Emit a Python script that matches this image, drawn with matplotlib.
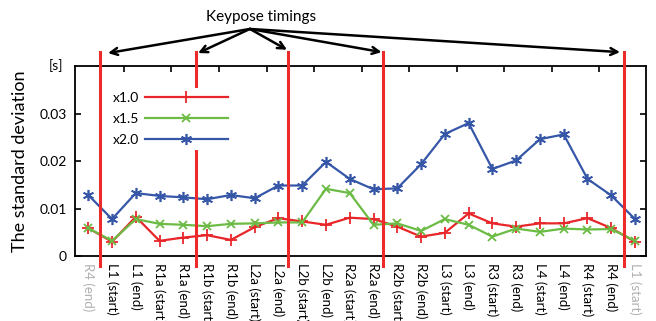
import matplotlib
matplotlib.use("Agg")
import matplotlib.pyplot as plt

plt.rcParams["font.family"] = ["Lato", "DejaVu Sans"]

labels = ["R4 (end)", "L1 (start)", "L1 (end)", "R1a (start)", "R1a (end)",
          "R1b (start)", "R1b (end)", "L2a (start)", "L2a (end)", "L2b (start)",
          "L2b (end)", "R2a (start)", "R2a (end)", "R2b (start)", "R2b (end)",
          "L3 (start)", "L3 (end)", "R3 (start)", "R3 (end)", "L4 (start)",
          "L4 (end)", "R4 (start)", "R4 (end)", "L1 (start)"]

sd_x10 = [0.0059, 0.0030, 0.0083, 0.0032, 0.0039, 0.0044, 0.0034, 0.0061,
          0.0080, 0.0073, 0.0066, 0.0081, 0.0078, 0.0062, 0.0041, 0.0049,
          0.0090, 0.0069, 0.0062, 0.0069, 0.0069, 0.0080, 0.0059, 0.0030]
sd_x15 = [0.0059, 0.0032, 0.0078, 0.0068, 0.0066, 0.0063, 0.0068, 0.0069,
          0.0071, 0.0071, 0.0142, 0.0133, 0.0066, 0.0069, 0.0053, 0.0078,
          0.0066, 0.0041, 0.0058, 0.0051, 0.0058, 0.0056, 0.0057, 0.0032]
sd_x20 = [0.0129, 0.0078, 0.0133, 0.0127, 0.0124, 0.0120, 0.0129, 0.0122,
          0.0149, 0.0149, 0.0199, 0.0163, 0.0141, 0.0143, 0.0194, 0.0258,
          0.0281, 0.0184, 0.0202, 0.0247, 0.0257, 0.0163, 0.0128, 0.0078]

# keypose timings, in label-index units
keyposes = [0.49, 4.53, 8.40, 12.41, 22.53]

RED = "#e8262a"
GREEN = "#6cbb45"
BLUE = "#3657a7"

fig = plt.figure(figsize=(6.56, 3.21), dpi=100)
ax = fig.add_axes([0.1143, 0.2025, 0.8704, 0.5928])

x = list(range(len(labels)))
ax.plot(x, sd_x10, color=RED, lw=1.6, marker="+", ms=8, mew=1.3, label="x1.0", zorder=3)
ax.plot(x, sd_x15, color=GREEN, lw=1.6, marker="x", ms=6, mew=1.3, label="x1.5", zorder=3)
ax.plot(x, sd_x20, color=BLUE, lw=1.6, marker=(6, 2, 0), ms=8, mew=1.2, label="x2.0", zorder=3)

for kp in keyposes:
    ax.plot([kp, kp], [-0.0021, 0.0431], color="#ee2b2b", lw=2.2, clip_on=False, zorder=4)

ax.set_xlim(-0.558, 23.46)
ax.set_ylim(0, 0.04023)

ax.set_xticks(x)
ax.set_xticklabels(labels, rotation=270, fontsize=9.5, va="top", ha="center")
for i in (0, len(labels) - 1):
    ax.get_xticklabels()[i].set_color("#b0b0b0")
ax.set_xticks([i + 0.5 for i in range(1, 22, 2)], minor=True)
ax.tick_params(axis="x", which="major", length=0, pad=5)
ax.tick_params(axis="x", which="minor", top=True, bottom=False, direction="in", length=4, width=1.2)

ax.set_yticks([0, 0.01, 0.02, 0.03])
ax.set_yticklabels(["0", "0.01", "0.02", "0.03"], fontsize=10)
ax.tick_params(axis="y", direction="in", right=True, length=4, width=1.2, pad=6)

for s in ax.spines.values():
    s.set_linewidth(1.3)

ax.set_ylabel("The standard deviation", fontsize=13, labelpad=8)
ax.text(-0.02, 1.0, "[s]", transform=ax.transAxes, ha="right", va="center", fontsize=10)

leg = ax.legend(loc="upper left", bbox_to_anchor=(0.059, 0.885), markerfirst=False,
                handlelength=6.0, fontsize=10, frameon=True, framealpha=1,
                facecolor="white", edgecolor="none", borderaxespad=0,
                labelspacing=0.65, handletextpad=0.4, borderpad=0.3, fancybox=False)
leg.set_zorder(5)

# arrows from the "Keypose timings" label to the keypose lines
ax.text(7.27, 0.0505, "Keypose timings", ha="center", va="center", fontsize=11)
origin = (6.80, 0.0480)
tips = [(0.83, 0.0429), (4.62, 0.0429), (8.36, 0.0436), (12.34, 0.0431), (22.37, 0.0431)]
for tip in tips:
    ax.annotate("", xy=tip, xytext=origin, annotation_clip=False,
                arrowprops=dict(arrowstyle="->,head_length=0.5,head_width=0.25",
                                color="black", lw=1.8, shrinkA=0, shrinkB=0))

plt.savefig("out.png", dpi=100)
